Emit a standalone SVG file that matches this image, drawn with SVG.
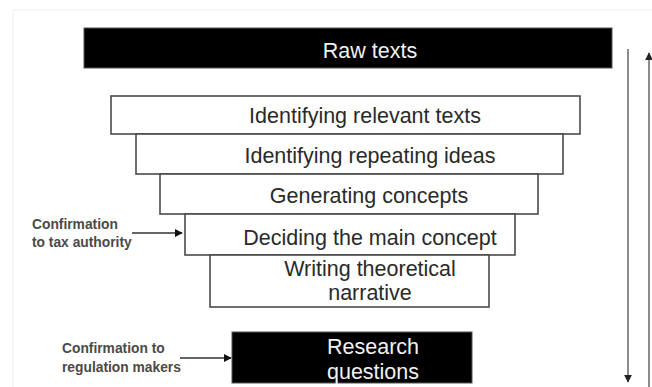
<svg xmlns="http://www.w3.org/2000/svg" width="652" height="387" viewBox="0 0 652 387">
<defs>
<style>
.box{fill:#fff;stroke:#4a4a4a;stroke-width:1.6}
.dark{fill:#000;stroke:#555;stroke-width:1}
.t{font-family:"Liberation Sans",Arial,sans-serif;font-size:21.5px;fill:#2a2a2a;text-anchor:middle}
.w{font-family:"Liberation Sans",Arial,sans-serif;font-size:21.5px;fill:#f2f2f2;text-anchor:middle}
.lab{font-family:"Liberation Sans",Arial,sans-serif;font-size:13.8px;font-weight:bold;fill:#4a4a4a}
.ln{stroke:#333;stroke-width:1.5;fill:none}
.vl{stroke:#666;stroke-width:1.5;fill:none}
</style>
<marker id="ah" viewBox="0 0 10 10" refX="9" refY="5" markerWidth="8" markerHeight="8" markerUnits="userSpaceOnUse" orient="auto">
<path d="M0,0 L10,5 L0,10 z" fill="#111"/>
</marker>
<marker id="ah2" viewBox="0 0 10 10" refX="9" refY="5" markerWidth="8" markerHeight="8" markerUnits="userSpaceOnUse" orient="auto">
<path d="M0,0 L10,5 L0,10 z" fill="#222"/>
</marker>
</defs>
<rect width="652" height="387" fill="#fff"/>
<path d="M13,387 V10 H652" fill="none" stroke="#eeeeee" stroke-width="1"/>

<g id="raw-texts">
<rect class="dark" x="84" y="28" width="528" height="40"/>
<text class="w" x="370" y="58">Raw texts</text>
</g>
<g id="step1">
<rect class="box" x="111" y="96" width="469" height="38"/>
<text class="t" x="365" y="123">Identifying relevant texts</text>
</g>
<g id="step2">
<rect class="box" x="136" y="134" width="427" height="40"/>
<text class="t" x="370" y="163">Identifying repeating ideas</text>
</g>
<g id="step3">
<rect class="box" x="160" y="174" width="378" height="40"/>
<text class="t" x="369" y="203">Generating concepts</text>
</g>
<g id="step4">
<rect class="box" x="185" y="214" width="330" height="41"/>
<text class="t" x="370" y="245">Deciding the main concept</text>
</g>
<g id="step5">
<rect class="box" x="210" y="255" width="279" height="52"/>
<text class="t" x="370" y="276">Writing theoretical</text>
<text class="t" x="370" y="300">narrative</text>
</g>
<g id="research-questions">
<rect class="dark" x="232" y="332" width="240" height="51"/>
<text class="w" x="373" y="354">Research</text>
<text class="w" x="373" y="379">questions</text>
</g>
<g id="label-tax">
<text class="lab" x="32" y="229">Confirmation</text>
<text class="lab" x="32" y="247">to tax authority</text>
</g>
<g id="label-regulation">
<text class="lab" x="62" y="353">Confirmation to</text>
<text class="lab" x="62" y="372">regulation makers</text>
</g>
<g id="connectors">
<line class="ln" x1="132" y1="233" x2="182" y2="233" marker-end="url(#ah)"/>
<line class="ln" x1="180" y1="358" x2="231" y2="358" marker-end="url(#ah)"/>
<line class="vl" x1="628" y1="49" x2="628" y2="382" marker-end="url(#ah2)"/>
<line class="vl" x1="649" y1="387" x2="649" y2="53" marker-end="url(#ah2)"/>
</g>
</svg>
